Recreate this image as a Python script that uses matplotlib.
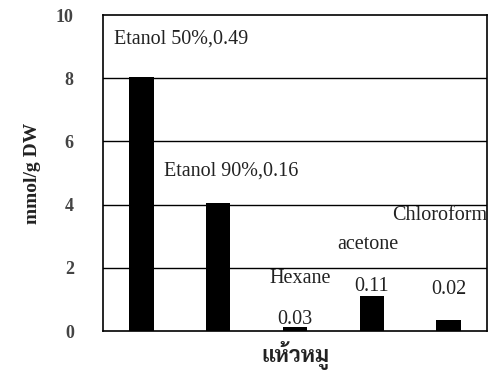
import matplotlib
matplotlib.use("Agg")
import matplotlib.pyplot as plt

# solvent extracts of แห้วหมู
solvents = ["Etanol 50%", "Etanol 90%", "Hexane", "acetone", "Chloroform"]
amounts = [8.05, 4.05, 0.13, 1.1, 0.35]   # mmol/g DW
notes = ["Etanol 50%,0.49", "Etanol 90%,0.16", "0.03", "0.11", "0.02"]
yticks = [0, 2, 4, 6, 8, 10]

plt.rcParams['font.family'] = ['Liberation Serif', 'Noto Serif Thai', 'DejaVu Sans']
ink = "#222222"

fig = plt.figure(figsize=(4.91, 3.71), dpi=100)
ax = fig.add_axes([103/491, 1 - 331/371, 384/491, 316/371])

x = range(len(solvents))
ax.bar(x, amounts, width=0.32, color="black", zorder=3)
ax.set_xlim(-0.5, len(solvents) - 0.5)
ax.set_ylim(0, 10)
ax.set_yticks(yticks)
ax.set_xticks([])
for t in yticks[1:-1]:
    ax.axhline(t, color="black", lw=1.0, zorder=1)
for s in ax.spines.values():
    s.set_linewidth(1.2)
ax.tick_params(axis='y', length=0, pad=21, labelsize=13, labelcolor="#444444")
for lab in ax.get_yticklabels():
    lab.set_fontweight("bold")

ax.set_ylabel("mmol/g DW", fontsize=14, fontweight="bold", labelpad=11, color=ink)
ax.set_xlabel("แห้วหมู", fontsize=16, fontweight="bold", labelpad=7, color=ink,
              family=['Sarabun', 'Noto Serif Thai'])

# text annotations
fs = 14.5
ser = ['Liberation Serif']
ax.text(-0.36, 9.25, notes[0], fontsize=fs, va="center", ha="left", color=ink, family=ser)
ax.text(0.3, 5.05, notes[1], fontsize=fs, va="center", ha="left", color=ink, family=ser)
ax.text(4.5, 3.65, solvents[4], fontsize=fs, va="center", ha="right", color=ink, family=ser)
ax.text(2.95, 2.75, solvents[3], fontsize=fs, va="center", ha="center", color=ink, family=ser)
ax.text(2.07, 1.65, solvents[2], fontsize=fs, va="center", ha="center", color=ink, family=ser)
ax.text(2.0, amounts[2] + 0.22, notes[2], fontsize=fs, va="center", ha="center", color=ink, family=ser)
ax.text(3.0, 1.4, notes[3], fontsize=fs, va="center", ha="center", color=ink, family=ser)
ax.text(4.0, 1.3, notes[4], fontsize=fs, va="center", ha="center", color=ink, family=ser)

fig.savefig("out.png", dpi=100)
